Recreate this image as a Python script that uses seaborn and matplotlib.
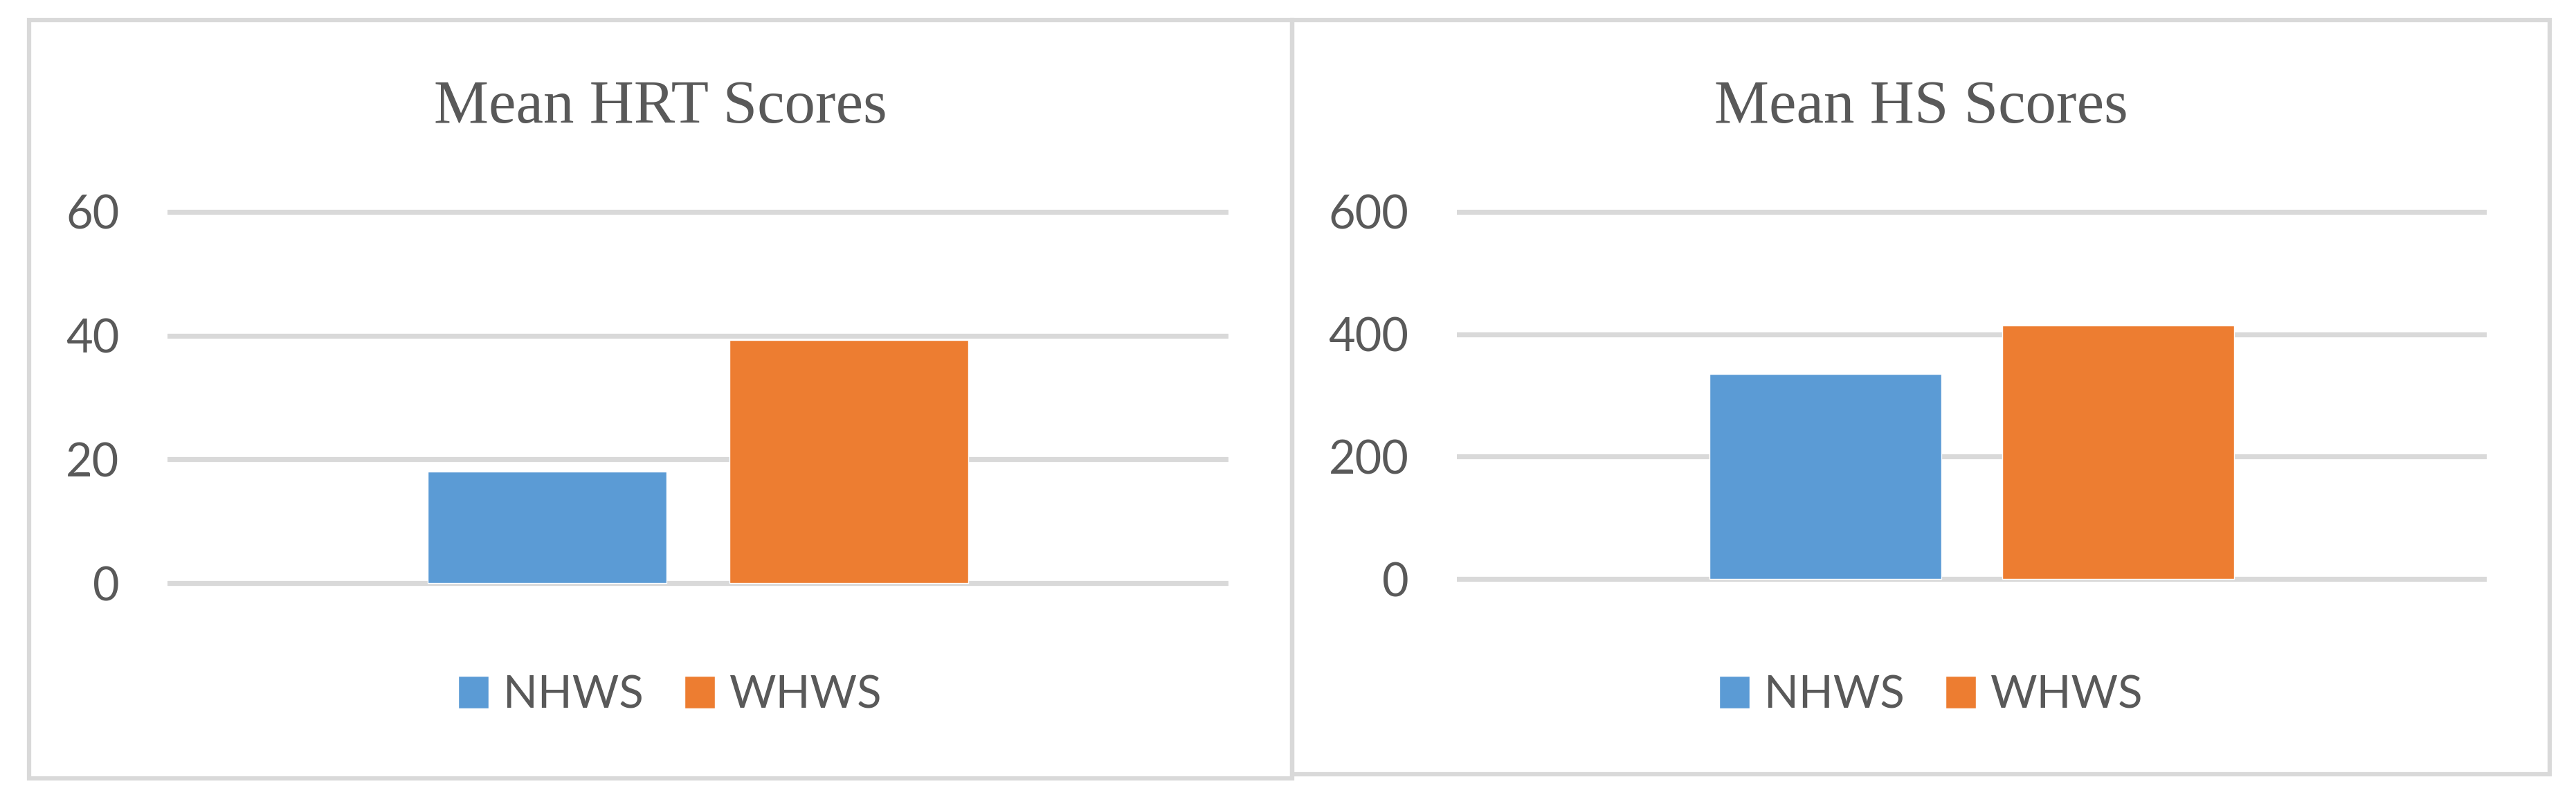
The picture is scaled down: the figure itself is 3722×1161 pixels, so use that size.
import pandas as pd
import matplotlib
matplotlib.use("Agg")
import matplotlib.pyplot as plt
from matplotlib.patches import Rectangle
import seaborn as sns

# Datos
groups = ["NHWS", "WHWS"]
hrt_means = [18.0, 39.3]
hs_means = [335, 414]
hrt_ticks = [0, 20, 40, 60]
hs_ticks = [0, 200, 400, 600]
titles = ["Mean HRT Scores", "Mean HS Scores"]
colors = ["#5B9BD5", "#ED7D31"]

sns.set_style("white")
plt.rcParams["font.family"] = ["Lato", "DejaVu Sans"]
plt.rcParams["text.color"] = "#595959"
plt.rcParams["ytick.color"] = "#595959"

fig = plt.figure(figsize=(37.23, 11.61), dpi=100)
grid_col = "#D9D9D9"

# marcos de cada panel
fig.patches.append(Rectangle((42 / 3723, 1 - 1124 / 1161), 1825 / 3723, 1095 / 1161,
                             transform=fig.transFigure, fill=False, ec=grid_col, lw=4.5))
fig.patches.append(Rectangle((1867 / 3723, 1 - 1118 / 1161), 1817 / 3723, 1089 / 1161,
                             transform=fig.transFigure, fill=False, ec=grid_col, lw=4.5))

panels = [
    dict(vals=hrt_means, ticks=hrt_ticks, pos=[0.0650, 0.267, 0.4118, 0.4772],
         ylim=(-1, 61), title_x=954 / 3723, leg_x=968 / 3723),
    dict(vals=hs_means, ticks=hs_ticks, pos=[0.5654, 0.2722, 0.3997, 0.472],
         ylim=(-10, 610), title_x=2776 / 3723, leg_x=2790 / 3723),
]

for p, title in zip(panels, titles):
    ax = fig.add_axes(p["pos"])
    df = pd.DataFrame({"cat": [""] * len(groups), "group": groups, "value": p["vals"]})
    sns.barplot(data=df, x="cat", y="value", hue="group", palette=colors,
                saturation=1, width=0.569, gap=0.21, ax=ax, zorder=3)
    ax.set_xlim(-0.5, 0.5)
    ax.set_ylim(*p["ylim"])
    ax.set_yticks(p["ticks"])
    ax.set_xticks([])
    ax.set_xlabel("")
    ax.set_ylabel("")
    ax.yaxis.grid(True, color=grid_col, lw=5.2, zorder=0)
    ax.set_axisbelow(True)
    ax.tick_params(axis="y", length=0, pad=50, labelsize=48)
    sns.despine(ax=ax, left=True, bottom=True)
    sns.move_legend(ax, "center", bbox_to_anchor=(p["leg_x"], 0.1352),
                    bbox_transform=fig.transFigure, ncol=2, title=None,
                    frameon=False, fontsize=47, handlelength=0.68,
                    handleheight=0.72, handletextpad=0.32, columnspacing=0.9)
    fig.text(p["title_x"], 1 - 177 / 1161, title, ha="center", va="baseline",
             fontsize=64, family="Liberation Serif", color="#595959")

fig.savefig("out.png", dpi=100)
